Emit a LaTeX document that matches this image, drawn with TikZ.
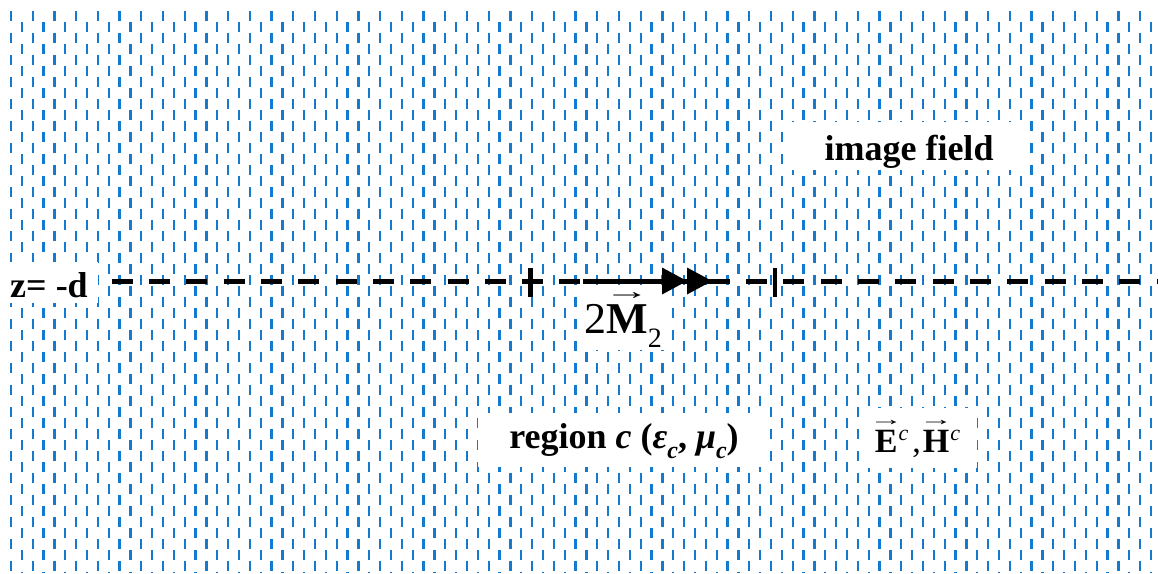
\documentclass[tikz,border=0pt]{standalone}
\usepackage{fontspec}
\setmainfont{Liberation Serif}
\usetikzlibrary{arrows.meta}
\definecolor{patblue}{RGB}{20,122,208}
\newcommand{\ovarrow}[4]{%
  \ooalign{#1\cr\hidewidth\raisebox{#3}[0pt][0pt]{\fontsize{#2}{#2}\selectfont\mdseries\upshape\scalebox{#4}[1]{→}}\hidewidth\cr}}
\begin{document}
\begin{tikzpicture}[x=1pt,y=-1pt,
  patline/.style={draw=patblue,line width=2.3pt,dash pattern=on 10pt off 12pt},
  whitebox/.style={fill=white,inner xsep=0pt,inner ysep=0pt,align=center},
  zline/.style={line width=5pt,dash pattern=on 21pt off 16.33pt,dash phase=24pt},
  arrowline/.style={line width=5pt},
  tickline/.style={line width=5pt},
  ]
\useasboundingbox (0,0) rectangle (1158,573);
\foreach \i in {0,...,105}{
  \pgfmathsetmacro\xx{11+\i*10.857}
  \ifodd\i
    \draw[patline] (\xx,22) -- (\xx,573);
  \else
    \draw[patline] (\xx,11) -- (\xx,573);
  \fi
}
% white label boxes
\node[whitebox, minimum width=98pt, text height=35pt, text depth=6pt,
      font=\fontsize{36}{36}\selectfont\bfseries] (zd) at (49,282.5) {z= -d};
\node[whitebox, minimum width=242pt, text height=38pt, text depth=10pt,
      font=\fontsize{36}{36}\selectfont\bfseries] (img) at (909,146) {image field};
\node[whitebox, minimum width=90pt, text height=48pt, text depth=17pt,
      font=\fontsize{44}{44}\selectfont] (mlab) at (623,317.5)
      {2\ovarrow{\bfseries M}{24pt}{34pt}{1.9}\raisebox{-14pt}{\fontsize{28}{28}\selectfont 2}};
\node[whitebox, minimum width=292pt, text height=35pt, text depth=19pt,
      font=\fontsize{36}{36}\selectfont\bfseries] (reg) at (624,440)
      {region \textit{c} (\textit{ε}\raisebox{-10pt}{\fontsize{24}{24}\selectfont\itshape c}, \textit{μ}\raisebox{-10pt}{\fontsize{24}{24}\selectfont\itshape c})};
\node[whitebox, minimum width=109pt, text height=44pt, text depth=16pt,
      font=\fontsize{34}{34}\selectfont] (eh) at (922.5,438)
      {\ovarrow{\bfseries E}{18pt}{27pt}{1.9}\hspace{1pt}\raisebox{12pt}{\fontsize{22}{22}\selectfont\itshape c}\hspace{4pt},\hspace{2pt}\ovarrow{\bfseries H}{18pt}{27pt}{1.9}\hspace{1pt}\raisebox{12pt}{\fontsize{22}{22}\selectfont\itshape c}\hspace{10pt}};
% interface line z = -d
\coordinate (zR) at (1158,281);
\draw[zline] (zd.east |- zR) -- (zR);
% dipole arrow
\coordinate (mS) at (583,281);
\coordinate (mT) at (712,281);
\coordinate (mE) at (728,281);
\draw[arrowline] (mS) -- (mE);
\draw[arrowline, -{Triangle[length=25pt,width=27pt,line width=0pt,sep=0pt]Triangle[length=25pt,width=27pt,line width=0pt,sep=0pt]}] (mS) -- (mT);
% ticks
\coordinate (t1a) at (530,268);
\coordinate (t1b) at (530,297);
\coordinate (t2a) at (775,268);
\coordinate (t2b) at (775,297);
\draw[tickline] (t1a) -- (t1b);
\draw[line width=4pt] (t2a) -- (t2b);
\end{tikzpicture}
\end{document}
